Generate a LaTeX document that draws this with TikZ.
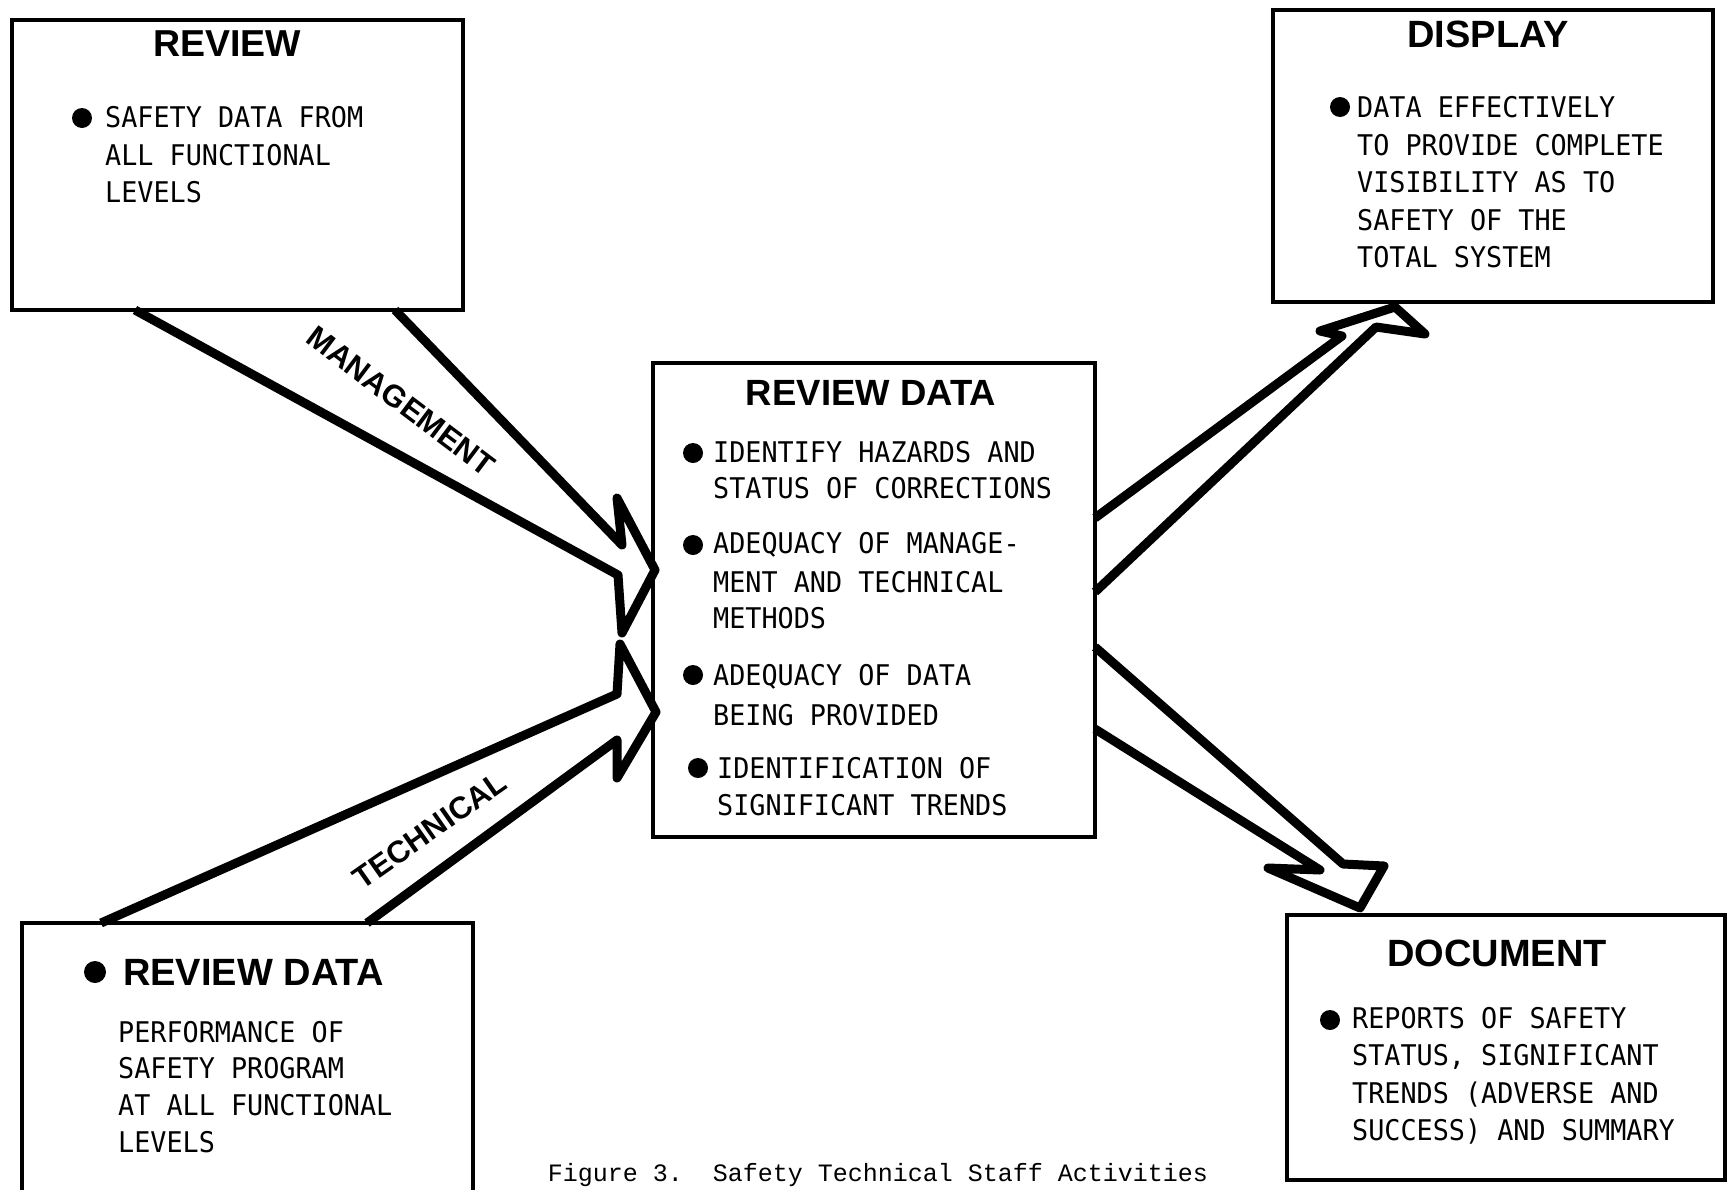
\documentclass[tikz,border=0pt]{standalone}
\usepackage{fontspec}
\newfontfamily\lettering[FakeStretch=0.94]{DejaVu Sans Mono}
\newfontfamily\headfont{Liberation Sans}
\newfontfamily\capfont{Liberation Mono}
\begin{document}
\begin{tikzpicture}[x=1pt,y=-1pt,
  box/.style={draw, line width=3.6pt, inner sep=0pt, outer sep=0pt, anchor=north west},
  flow/.style={draw, line width=9pt, line join=round},
  body/.style={font=\lettering\fontsize{28.5}{30}\selectfont, inner sep=0pt, anchor=base west},
  head/.style={font=\headfont\bfseries\fontsize{37.5}{40}\selectfont, inner sep=0pt, anchor=base},
  bighead/.style={font=\headfont\bfseries\fontsize{38}{40}\selectfont, inner sep=0pt, anchor=base},
  dot/.style={circle, fill=black, inner sep=0pt, minimum size=20pt},
  tag/.style={font=\headfont\bfseries\fontsize{31}{32}\selectfont, inner sep=0pt}
]
\fill[white] (0,0) rectangle (1727,1189);
\useasboundingbox (0,0) rectangle (1727,1189);

% boxes
\node[box, minimum width=451pt, minimum height=290pt] (review) at (12,20) {};
\node[box, minimum width=440pt, minimum height=292pt] (display) at (1273,10) {};
\node[box, line width=4.2pt, minimum width=442pt, minimum height=474pt] (center) at (653,363) {};
\node[box, minimum width=451pt, minimum height=300pt] (tbox) at (22,923) {};
\node[box, minimum width=438pt, minimum height=265pt] (document) at (1287,915) {};

% arrows
\draw[flow] (135,0 |- review.south) -- (618,575) -- (622,633) -- (655,570)
  -- (617,498) -- (622,545) -- (395,0 |- review.south);
\draw[flow] (101,0 |- tbox.north) -- (617,694) -- (620,644) -- (656,712)
  -- (617,778) -- (617,740) -- (367,0 |- tbox.north);
\draw[flow] (center.east |- 0,592) -- (1376,327) -- (1425,334) -- (1395,307)
  -- (1320,331) -- (1342,336) -- (center.east |- 0,518);
\draw[flow] (center.east |- 0,647) -- (1343,864) -- (1384,866) -- (1360,908)
  -- (1268,868) -- (1320,870) -- (center.east |- 0,729);

\node[tag, rotate=-37] (mgmt) at (401,401) {MANAGEMENT};
\node[tag, rotate=35] (tech) at (430,830) {TECHNICAL};

% review box text
\node[head] (reviewT) at (227,56) {REVIEW};
\node[dot] (rv0) at (82,118) {};
\node[body] (rv1) at (105,127.4) {SAFETY DATA FROM};
\node[body] (rv2) at (105,165.4) {ALL FUNCTIONAL};
\node[body] (rv3) at (105,202.4) {LEVELS};

% display box text
\node[bighead] (displayT) at (1488,47) {DISPLAY};
\node[dot] (ds0) at (1340,107) {};
\node[body] (ds1) at (1357,117.4) {DATA EFFECTIVELY};
\node[body] (ds2) at (1357,155.4) {TO PROVIDE COMPLETE};
\node[body] (ds3) at (1357,192.4) {VISIBILITY AS TO};
\node[body] (ds4) at (1357,230.4) {SAFETY OF THE};
\node[body] (ds5) at (1357,267.4) {TOTAL SYSTEM};

% center box text
\node[head, font=\headfont\bfseries\fontsize{36.5}{40}\selectfont] (centerT) at (871,405) {REVIEW DATA};
\node[dot] (cb1) at (693,453) {};
\node[dot] (cb2) at (693,545) {};
\node[dot] (cb3) at (693,675) {};
\node[dot] (cb4) at (698,768) {};
\node[body] (c1) at (713,462.4) {IDENTIFY HAZARDS AND};
\node[body] (c2) at (713,498.4) {STATUS OF CORRECTIONS};
\node[body] (c3) at (713,553.4) {ADEQUACY OF MANAGE-};
\node[body] (c4) at (713,592.4) {MENT AND TECHNICAL};
\node[body] (c5) at (713,628.4) {METHODS};
\node[body] (c6) at (713,685.4) {ADEQUACY OF DATA};
\node[body] (c7) at (713,725.4) {BEING PROVIDED};
\node[body] (c8) at (717,778.4) {IDENTIFICATION OF};
\node[body] (c9) at (717,815.4) {SIGNIFICANT TRENDS};

% bottom-left box text
\node[dot, minimum size=22pt] (tb0) at (95,972) {};
\node[bighead, anchor=base west] (tbT) at (123,985.5) {REVIEW DATA};
\node[body] (t1) at (118,1042.4) {PERFORMANCE OF};
\node[body] (t2) at (118,1078.4) {SAFETY PROGRAM};
\node[body] (t3) at (118,1115.4) {AT ALL FUNCTIONAL};
\node[body] (t4) at (118,1152.4) {LEVELS};

% document box text
\node[bighead] (documentT) at (1497,966.5) {DOCUMENT};
\node[dot] (dc0) at (1330,1020) {};
\node[body] (d1) at (1352,1028.4) {REPORTS OF SAFETY};
\node[body] (d2) at (1352,1065.4) {STATUS, SIGNIFICANT};
\node[body] (d3) at (1352,1103.4) {TRENDS (ADVERSE AND};
\node[body] (d4) at (1352,1140.4) {SUCCESS) AND SUMMARY};

% caption
\node[font=\capfont\fontsize{25}{28}\selectfont, inner sep=0pt, anchor=base] (caption) at (878,1181) {Figure 3.\ \ Safety Technical Staff Activities};
\end{tikzpicture}
\end{document}
